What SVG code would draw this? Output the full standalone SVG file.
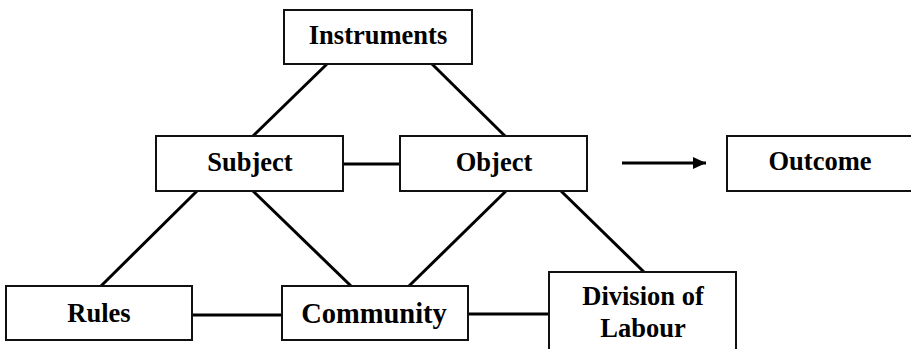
<svg xmlns="http://www.w3.org/2000/svg" width="911" height="349" viewBox="0 0 911 349">
<style>
.box{fill:#fff;stroke:#111;stroke-width:2}
.t{font-weight:bold;font-size:26.5px;fill:#000;text-anchor:middle}
.big{font-size:28.5px}
.c{stroke:#000;stroke-width:3;fill:none}
</style>
<defs>
<marker id="ah" viewBox="0 0 13 12" refX="13" refY="6" markerWidth="13" markerHeight="12" markerUnits="userSpaceOnUse" orient="auto">
<path d="M0,0 L13,6 L0,12 Z" fill="#000"/>
</marker>
</defs>
<rect width="911" height="349" fill="#fff"/>
<g id="connectors">
<line class="c" x1="327" y1="64" x2="253" y2="136"/>
<line class="c" x1="432" y1="64" x2="505" y2="136"/>
<line class="c" x1="343" y1="164" x2="400" y2="164"/>
<line class="c" x1="197" y1="191" x2="101" y2="286"/>
<line class="c" x1="253" y1="191" x2="351" y2="286"/>
<line class="c" x1="506" y1="191" x2="409" y2="286"/>
<line class="c" x1="561" y1="191" x2="644" y2="272"/>
<line class="c" x1="192" y1="315" x2="282" y2="315"/>
<line class="c" x1="468" y1="314" x2="549" y2="314"/>
<line class="c" x1="622" y1="163" x2="706" y2="163" stroke-width="2.5" marker-end="url(#ah)"/>
</g>
<g font-family="'Liberation Serif', 'Times New Roman', Times, serif">
<g id="instruments"><rect class="box" x="284" y="10" width="188" height="54"/><text class="t" x="378" y="44">Instruments</text></g>
<g id="subject"><rect class="box" x="156" y="136" width="187" height="55"/><text class="t" x="250" y="171">Subject</text></g>
<g id="object"><rect class="box" x="400" y="136" width="187" height="55"/><text class="t" x="494" y="171">Object</text></g>
<g id="outcome"><rect class="box" x="727" y="136" width="188" height="55"/><text class="t" x="820" y="170">Outcome</text></g>
<g id="rules"><rect class="box" x="6" y="286" width="186" height="54"/><text class="t" x="99" y="322">Rules</text></g>
<g id="community"><rect class="box" x="282" y="286" width="186" height="54"/><text class="t big" x="374" y="323">Community</text></g>
<g id="division"><rect class="box" x="549" y="272" width="187" height="90"/><text class="t" x="643" y="305">Division of</text><text class="t" x="643" y="337">Labour</text></g>
</g>
</svg>
